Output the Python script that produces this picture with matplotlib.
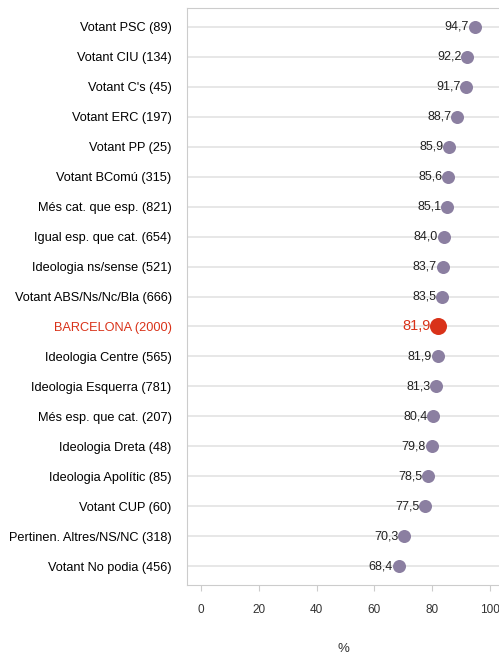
import matplotlib.pyplot as plt

plt.rcParams['font.family'] = ['Liberation Sans', 'DejaVu Sans']

categories = [
    "Votant PSC (89)", "Votant CIU (134)", "Votant C's (45)", "Votant ERC (197)",
    "Votant PP (25)", "Votant BComú (315)", "Més cat. que esp. (821)",
    "Igual esp. que cat. (654)", "Ideologia ns/sense (521)",
    "Votant ABS/Ns/Nc/Bla (666)", "BARCELONA (2000)", "Ideologia Centre (565)",
    "Ideologia Esquerra (781)", "Més esp. que cat. (207)", "Ideologia Dreta (48)",
    "Ideologia Apolític (85)", "Votant CUP (60)", "Pertinen. Altres/NS/NC (318)",
    "Votant No podia (456)",
]
values = [94.7, 92.2, 91.7, 88.7, 85.9, 85.6, 85.1, 84.0, 83.7, 83.5,
          81.9, 81.9, 81.3, 80.4, 79.8, 78.5, 77.5, 70.3, 68.4]
highlight = "BARCELONA (2000)"
xticks = [0, 20, 40, 60, 80, 100]

purple = "#8b7fa1"
red = "#d93219"

fig = plt.figure(figsize=(4.99, 6.54), dpi=100)
ax = fig.add_axes([187 / 499, 1 - 585 / 654, 1 - 187 / 499, (585 - 8) / 654])

n = len(categories)
ypos = list(range(n))
for y, cat, v in zip(ypos, categories, values):
    ax.axhline(y, color="#e3e3e3", lw=1.2, zorder=0)
    if cat == highlight:
        ax.scatter(v, y, s=150, color=red, zorder=3, linewidths=0)
        ax.text(v - 2.3, y, f"{v:.1f}".replace(".", ","), ha="right", va="center",
                fontsize=10.5, color=red)
    else:
        ax.scatter(v, y, s=88, color=purple, zorder=3, linewidths=0)
        ax.text(v - 2.0, y, f"{v:.1f}".replace(".", ","), ha="right", va="center",
                fontsize=9, color="#222222")

ax.set_ylim(n - 1 + 0.63, -0.63)
ax.set_xlim(-4.8, 103.1)
ax.set_yticks(ypos)
ax.set_yticklabels(categories, fontsize=9.2)
for lbl in ax.get_yticklabels():
    if lbl.get_text() == highlight:
        lbl.set_color(red)
ax.tick_params(axis="y", length=0, pad=11)
ax.set_xticks(xticks)
ax.set_xticklabels([str(t) for t in xticks], fontsize=8.5, color="#333333")
ax.tick_params(axis="x", length=4, color="#cccccc", pad=10)

ax.spines["right"].set_visible(False)
for s in ["left", "bottom", "top"]:
    ax.spines[s].set_color("#cccccc")

ax.set_xlabel("%", fontsize=9.5, color="#333333", labelpad=19)

fig.savefig("out.png", dpi=100)
